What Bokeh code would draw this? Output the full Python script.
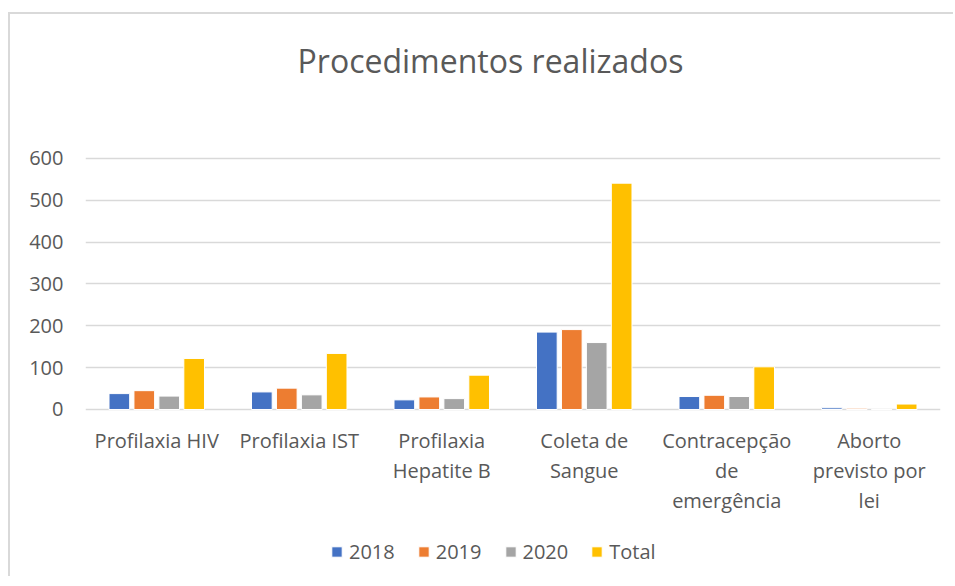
from bokeh.plotting import figure
from bokeh.models import FactorRange, Range1d, Legend, LegendItem, ColumnDataSource, FixedTicker, LabelSet, Label
from bokeh.core.properties import value
from bokeh.transform import dodge
from bokeh.embed import file_html
from bokeh.resources import INLINE

title_text = "Procedimentos realizados"
categories = ["Profilaxia HIV", "Profilaxia IST", "Profilaxia Hepatite B",
              "Coleta de Sangue", "Contracepção de emergência", "Aborto previsto por lei"]
tick_labels = ["Profilaxia HIV", "Profilaxia IST", "Profilaxia\nHepatite B",
               "Coleta de\nSangue", "Contracepção\nde\nemergência", "Aborto\nprevisto por\nlei"]
y_ticks = [0, 100, 200, 300, 400, 500, 600]
series_names = ["2018", "2019", "2020", "Total"]
v2018 = [38, 42, 23, 185, 31, 4]
v2019 = [45, 51, 30, 191, 34, 3]
v2020 = [32, 35, 26, 160, 31, 0]
vtotal = [122, 134, 82, 541, 102, 13]
colors = ["#4472C4", "#ED7D31", "#A5A5A5", "#FFC000"]

FONT = "Open Sans"
TXT = "#595959"

src = ColumnDataSource(dict(cat=categories, s2018=v2018, s2019=v2019, s2020=v2020, stotal=vtotal))

# one row per label line so every line is centred under its category
lc, lt, lo = [], [], []
for c, t in zip(categories, tick_labels):
    for k, line in enumerate(t.split("\n")):
        lc.append(c)
        lt.append(line)
        lo.append(-18 - 30 * k)
lab_src = ColumnDataSource(dict(cat=lc, txt=lt, yoff=lo, zero=[0] * len(lc)))

# frame fills the canvas; the value axis only ticks 0..600, title/labels/legend sit in the free space
p = figure(width=945, height=564, output_backend="svg", toolbar_location=None,
           x_range=FactorRange(*categories), y_range=Range1d(-404, 944.2))
p.styles = {"margin-top": "12px", "margin-left": "8px",
            "border-top": "2px solid #d9d9d9", "border-left": "2px solid #d9d9d9"}
p.min_border_left = 75
p.min_border_right = 15
p.min_border_top = 0
p.min_border_bottom = 0
p.outline_line_color = None

step = 0.175
bw = 0.145
renderers = []
fields = ["s2018", "s2019", "s2020", "stotal"]
for i, (f, c) in enumerate(zip(fields, colors)):
    r = p.vbar(x=dodge("cat", (i - 1.5) * step, range=p.x_range), top=f, width=bw,
               source=src, fill_color=c, line_color="white", line_width=1)
    renderers.append(r)

p.xgrid.grid_line_color = None
p.ygrid.grid_line_color = "#D9D9D9"
p.ygrid.grid_line_width = 1.5
p.yaxis.ticker = FixedTicker(ticks=y_ticks)
ax = p.yaxis[0]
ax.axis_line_color = None
ax.major_tick_line_color = None
ax.minor_tick_line_color = None
ax.major_label_text_font = FONT
ax.major_label_text_font_size = "20px"
ax.major_label_text_color = TXT
ax.major_label_standoff = 16
p.xaxis.visible = False
p.x_range.range_padding = 0
p.x_range.factor_padding = 0

title = Label(x=2.842, y=834, text=title_text, text_align="center", text_baseline="middle",
              text_font=FONT, text_font_size="32px", text_color=TXT)
p.add_layout(title)

labels = LabelSet(x="cat", y="zero", text="txt", source=lab_src, y_offset="yoff",
                  text_align="center", text_baseline="top", text_font=value(FONT),
                  text_font_size=value("20px"), text_color=value(TXT))
p.add_layout(labels)

legend = Legend(items=[LegendItem(label=n, renderers=[r]) for n, r in zip(series_names, renderers)],
                orientation="horizontal", location=(245, 13))
legend.border_line_color = None
legend.background_fill_alpha = 0
legend.padding = 0
legend.margin = 0
legend.spacing = 22
legend.glyph_width = 13
legend.glyph_height = 13
legend.label_standoff = 6
legend.label_text_font = FONT
legend.label_text_font_size = "20px"
legend.label_text_color = TXT
legend.label_height = 24
p.add_layout(legend, "center")

open("out.html", "w").write(file_html(p, INLINE))
